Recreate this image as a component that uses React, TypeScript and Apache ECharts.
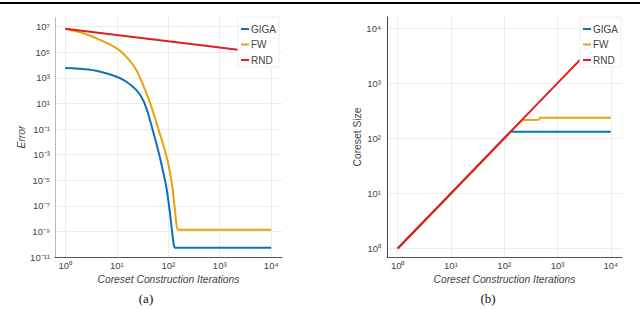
import React, { useEffect, useRef } from 'react';
import * as echarts from 'echarts';

// ---------- data ----------
const seriesNames = ['GIGA', 'FW', 'RND'];

// (a) Error vs coreset construction iterations
const errGigaX = [1, 2.17, 4.6, 9.7, 15.1, 23.9, 32.4, 40.3, 58.6, 73.3, 91.8, 106.4, 118, 129, 139, 10000];
const errGigaY = [5.75e3, 4.79e3, 3.16e3, 1.26e3, 513, 115, 18.6, 1.78, 7.6e-3, 2.04e-4, 2.95e-6, 4.47e-8, 1.2e-9, 7.9e-11, 5.2e-11, 5.2e-11];

const errFwX = [1, 2.17, 4.6, 9.7, 15.1, 23.9, 32.4, 43.4, 54.3, 67.9, 85.1, 103.3, 120, 133, 144, 155, 10000];
const errFwY = [6.9e6, 3.16e6, 9.5e5, 2.14e5, 4.68e4, 4.27e3, 282, 13.8, 0.91, 0.05, 2.5e-3, 1.1e-4, 2.95e-6, 8.1e-8, 4e-9, 1.35e-9, 1.35e-9];

const errRndX = [1, 10, 100, 1000, 10000];
const errRndY = [6.9e6, 2.2e6, 7.2e5, 2.3e5, 7.6e4];

// (b) Coreset size vs coreset construction iterations
const sizeGigaX = [1, 132, 10000];
const sizeGigaY = [1, 132, 132];

const sizeFwX = [1, 210, 240, 450, 470, 10000];
const sizeFwY = [1, 210, 215, 218, 235, 236];

const sizeRndX = [1, 10, 100, 1000, 10000];
const sizeRndY = [1, 10, 100, 1000, 10000];

// tick label exponents
const xTickExps = [0, 1, 2, 3, 4];
const errTickExps = [-11, -9, -7, -5, -3, -1, 1, 3, 5, 7];
const sizeTickExps = [0, 1, 2, 3, 4];

const xTitle = 'Coreset Construction Iterations';
const errTitle = 'Error';
const sizeTitle = 'Coreset Size';
const captions = ['(a)', '(b)'];

// ---------- helpers ----------
const SUP: Record<string, string> = {
  '0': '⁰', '1': '¹', '2': '²', '3': '³', '4': '⁴', '5': '⁵', '6': '⁶', '7': '⁷', '8': '⁸', '9': '⁹', '-': '⁻',
};
const pow10Label = (exps: number[]) => (v: number) => {
  const e = Math.round(Math.log10(v));
  if (Math.abs(Math.log10(v) - e) > 1e-6 || exps.indexOf(e) < 0) return '';
  return '10' + String(e).split('').map((c) => SUP[c] || c).join('');
};
const zip = (xs: number[], ys: number[]) => xs.map((x, i) => [x, ys[i]]);

const COLORS = ['#0b72b9', '#e9a20b', '#e11d1f'];
const FONT = 'Liberation Sans, Arial, sans-serif';
const TXT = '#444';
const GRID = '#ececec';

export default function App() {
  const ref = useRef<HTMLDivElement>(null);
  useEffect(() => {
    document.body.style.margin = '0';
    if (!ref.current) return;
    const chart = echarts.init(ref.current, undefined, { renderer: 'svg' });

    const xAxisCommon = (gridIndex: number) => ({
      type: 'log',
      gridIndex,
      logBase: 10,
      min: Math.pow(10, -0.2),
      max: Math.pow(10, 4.21),
      name: xTitle,
      nameLocation: 'middle',
      nameGap: 13,
      nameTextStyle: { fontFamily: FONT, fontSize: 10.3, fontStyle: 'italic', color: TXT },
      axisLine: { show: true, lineStyle: { color: '#555', width: 1 } },
      axisTick: { show: false },
      axisLabel: {
        formatter: pow10Label(xTickExps), fontFamily: FONT, fontSize: 9.5, color: TXT, margin: 3,
        showMinLabel: false, showMaxLabel: false,
      },
      splitLine: { show: true, showMinLine: false, showMaxLine: false, lineStyle: { color: GRID, width: 1 } },
    });

    const lineSeries = (name: string, idx: number, data: number[][], axis: number, smooth: number | boolean) => ({
      name,
      type: 'line',
      xAxisIndex: axis,
      yAxisIndex: axis,
      data,
      smooth,
      showSymbol: false,
      symbol: 'none',
      lineStyle: { color: COLORS[idx], width: 2 },
      itemStyle: { color: COLORS[idx] },
    });

    const legendCommon = (left: number) => ({
      orient: 'vertical',
      left,
      top: 17,
      data: seriesNames,
      icon: 'rect',
      itemWidth: 8,
      itemHeight: 2,
      itemGap: 3.5,
      padding: [6, 3, 1, 3],
      backgroundColor: '#ffffff',
      borderColor: '#eeeeee',
      borderWidth: 1,
      selectedMode: false,
      textStyle: { fontFamily: FONT, fontSize: 10, color: TXT, lineHeight: 12, padding: [0, 0, 0, -3] },
    });

    chart.setOption({
      animation: false,
      backgroundColor: '#ffffff',
      grid: [
        { left: 55, top: 17, width: 227, height: 240 },
        { left: 387, top: 17, width: 235, height: 240 },
      ],
      xAxis: [xAxisCommon(0), xAxisCommon(1)],
      yAxis: [
        {
          type: 'log',
          gridIndex: 0,
          logBase: 10,
          min: 1e-11,
          max: Math.pow(10, 7.75),
          interval: 2,
          name: errTitle,
          nameLocation: 'middle',
          nameGap: 18,
          nameTextStyle: { fontFamily: FONT, fontSize: 10.3, fontStyle: 'italic', color: TXT },
          axisLine: { show: true, lineStyle: { color: '#aaa', width: 1, type: 'dotted' } },
          axisTick: { show: false },
          axisLabel: {
            formatter: pow10Label(errTickExps), fontFamily: FONT, fontSize: 9.5, color: TXT, margin: 5,
            showMaxLabel: false,
          },
          splitLine: { show: true, showMinLine: false, showMaxLine: false, lineStyle: { color: GRID, width: 1 } },
        },
        {
          type: 'log',
          gridIndex: 1,
          logBase: 10,
          min: Math.pow(10, -0.153),
          max: Math.pow(10, 4.2),
          name: sizeTitle,
          nameLocation: 'middle',
          nameGap: 14.5,
          nameTextStyle: { fontFamily: FONT, fontSize: 10.3, color: TXT },
          axisLine: { show: true, lineStyle: { color: '#444', width: 1 } },
          axisTick: { show: false },
          axisLabel: {
            formatter: pow10Label(sizeTickExps), fontFamily: FONT, fontSize: 9.5, color: TXT, margin: 6,
            showMinLabel: false, showMaxLabel: false,
          },
          splitLine: { show: true, showMinLine: false, showMaxLine: false, lineStyle: { color: GRID, width: 1 } },
        },
      ],
      legend: [legendCommon(238), legendCommon(580)],
      series: [
        lineSeries(seriesNames[0], 0, zip(errGigaX, errGigaY), 0, 0.25),
        lineSeries(seriesNames[1], 1, zip(errFwX, errFwY), 0, 0.25),
        lineSeries(seriesNames[2], 2, zip(errRndX, errRndY), 0, false),
        lineSeries(seriesNames[0], 0, zip(sizeGigaX, sizeGigaY), 1, false),
        lineSeries(seriesNames[1], 1, zip(sizeFwX, sizeFwY), 1, false),
        lineSeries(seriesNames[2], 2, zip(sizeRndX, sizeRndY), 1, false),
      ],
      graphic: [
        { type: 'rect', left: 0, top: 2, shape: { width: 640, height: 2 }, style: { fill: '#000' }, silent: true },
        {
          type: 'text', x: 146, y: 298,
          style: { text: captions[0], fontFamily: 'Liberation Serif, Times New Roman, serif', fontSize: 13, fill: '#111', align: 'center', verticalAlign: 'middle' },
        },
        {
          type: 'text', x: 488, y: 298,
          style: { text: captions[1], fontFamily: 'Liberation Serif, Times New Roman, serif', fontSize: 13, fill: '#111', align: 'center', verticalAlign: 'middle' },
        },
      ],
    });
    return () => chart.dispose();
  }, []);
  return <div ref={ref} style={{ width: 640, height: 309 }} />;
}
